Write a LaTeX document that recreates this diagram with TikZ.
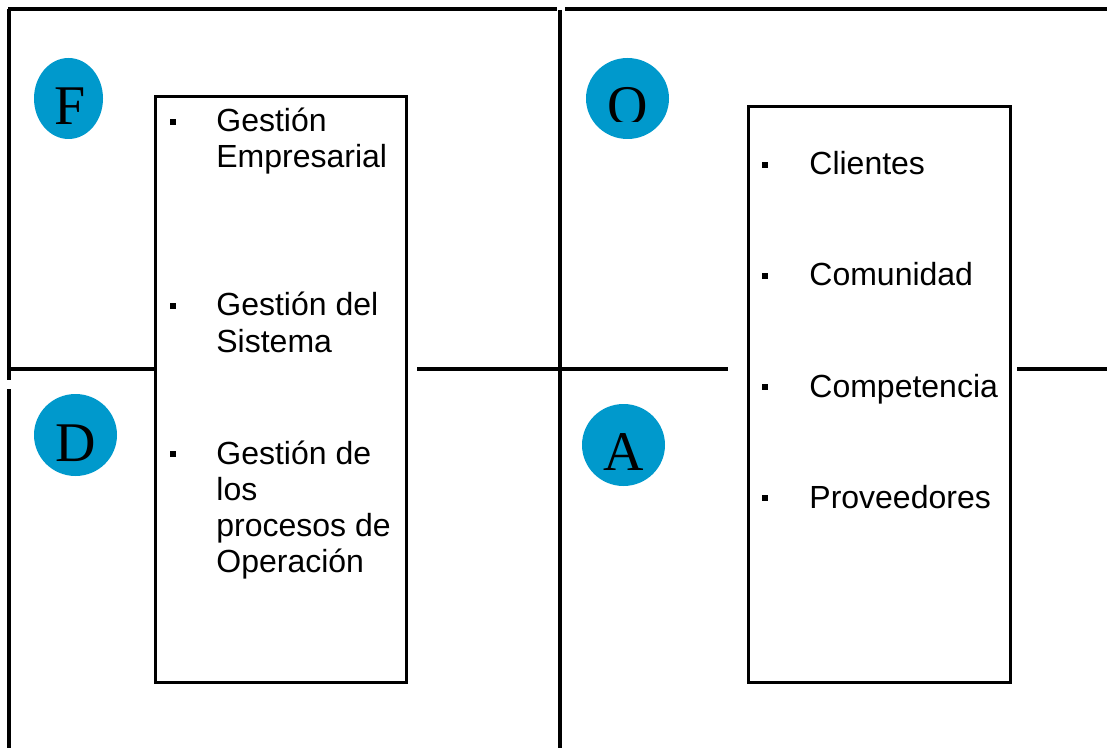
\documentclass[tikz,border=0pt]{standalone}
\usepackage{fontspec}
\setmainfont{Liberation Sans}
\newfontfamily\letrafont{Liberation Serif}
\usetikzlibrary{shapes.geometric}
\definecolor{fodaazul}{RGB}{0,153,204}

\begin{document}
\begin{tikzpicture}[x=0.5pt, y=-0.5pt,
        linea/.style = {line width=1.6pt},
        caja/.style = {draw, line width=1.6pt, anchor=north west, inner sep=0},
        burbuja/.style = {ellipse, fill=fodaazul, inner sep=0},
        letra/.style = {font=\letrafont\fontsize{28}{28}\selectfont, anchor=base, inner sep=0},
        vineta/.style = {fill=black, minimum size=3.4pt, inner sep=0},
        texto/.style = {font=\fontsize{16}{18}\selectfont, anchor=base west, align=left, inner sep=0}]
        \useasboundingbox (0,0) rectangle (1107,748);

        % cuadrantes
        \draw[linea] (8,9) -- (557,9);
        \draw[linea] (565,9) -- (1107,9);
        \draw[linea] (9,9) -- (9,380);
        \draw[linea] (9,389) -- (9,748);
        \draw[linea] (560,10) -- (560,748);

        % cajas
        \node[caja, minimum width=125.5pt, minimum height=293pt] at (154,95) (internos) {};
        \node[caja, minimum width=131pt, minimum height=288pt] at (747,105) (externos) {};

        \draw[linea] (9,369) -- (internos.west |- 0,369);
        \draw[linea] (417,369) -- (728,369);
        \draw[linea] (1017,369) -- (1107,369);

        % burbujas
        \node[burbuja, minimum width=34.5pt, minimum height=40.5pt] at (68.5,98.5) (F) {};
        \node[burbuja, minimum width=41.5pt, minimum height=40.5pt] at (627.5,98.5) (O) {};
        \node[burbuja, minimum width=41.5pt, minimum height=41pt] at (75.5,435) (D) {};
        \node[burbuja, minimum width=41.5pt, minimum height=41pt] at (623.5,445) (A) {};

        \node[letra] at (70,125) (letraF) {F};
        \begin{scope}
        \clip (580,50) rectangle (680,122);
        \node[letra] at (628,125) (letraO) {O};
        \end{scope}
        \node[letra] at (76,461) (letraD) {D};
        \node[letra] at (624,470) (letraA) {A};

        % fortalezas y debilidades
        \node[vineta] at (173,122) (v1) {};
        \node[texto] at (216,168) (t1) {Gestión\\Empresarial};
        \node[vineta] at (173,306) (v2) {};
        \node[texto] at (216,352) (t2) {Gestión del\\Sistema};
        \node[vineta] at (173,454) (v3) {};
        \node[texto] at (216,572) (t3) {Gestión de\\los\\procesos de\\Operación};

        % oportunidades y amenazas
        \node[vineta] at (765,165) (v4) {};
        \node[texto] at (809,175) (t4) {Clientes};
        \node[vineta] at (765,276) (v5) {};
        \node[texto] at (809,286) (t5) {Comunidad};
        \node[vineta] at (765,387) (v6) {};
        \node[texto] at (809,397) (t6) {Competencia};
        \node[vineta] at (765,498) (v7) {};
        \node[texto] at (809,508) (t7) {Proveedores};
\end{tikzpicture}
\end{document}
